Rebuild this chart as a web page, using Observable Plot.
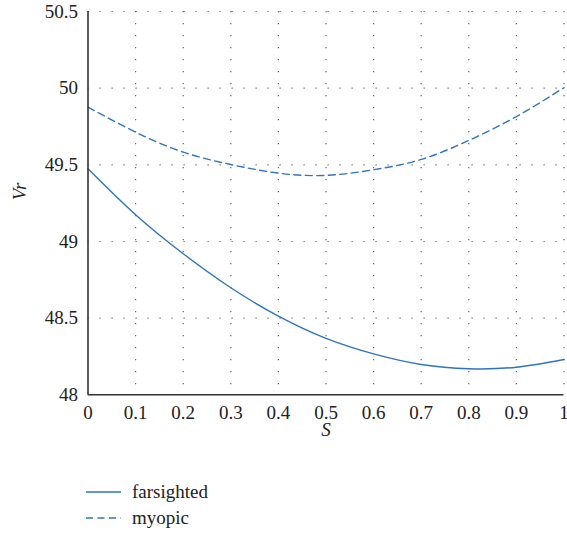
<!DOCTYPE html>
<html><head><meta charset="utf-8">
<script src="https://cdn.jsdelivr.net/npm/d3@7"></script>
<script src="https://cdn.jsdelivr.net/npm/@observablehq/plot@0.6"></script>
<style>
body{margin:0;background:#fff;font-family:Liberation Serif, serif;position:relative;width:567px;height:535px;overflow:hidden;}
#chart svg{display:block;}
.legend{position:absolute;left:86px;top:479px;font-size:19px;color:#222;font-family:Liberation Serif, serif;}
.legend .row{display:flex;align-items:center;height:26px;}
.legend svg{margin-right:11px;}
</style>
</head><body>
<div id="chart"></div>
<div class="legend" id="legend"></div>
<script>
const sValues   = [0, 0.1, 0.2, 0.3, 0.4, 0.5, 0.6, 0.7, 0.8, 0.9, 1];
const farsighted = [49.474, 49.174, 48.920, 48.698, 48.513, 48.368, 48.267, 48.198, 48.170, 48.180, 48.230];
const myopic     = [49.876, 49.713, 49.583, 49.502, 49.446, 49.431, 49.468, 49.535, 49.659, 49.815, 50.003];
const xTicks = [0, 0.1, 0.2, 0.3, 0.4, 0.5, 0.6, 0.7, 0.8, 0.9, 1];
const xTickLabels = ["0", "0.1", "0.2", "0.3", "0.4", "0.5", "0.6", "0.7", "0.8", "0.9", "1"];
const yTicks = [48, 48.5, 49, 49.5, 50, 50.5];
const yTickLabels = ["48", "48.5", "49", "49.5", "50", "50.5"];
const seriesNames = ["farsighted", "myopic"];
const lineColor = "#2f74c0";
const serif = "Liberation Serif";

const rows = [];
sValues.forEach((s, i) => {
  rows.push({s, v: farsighted[i], series: "farsighted"});
  rows.push({s, v: myopic[i], series: "myopic"});
});

const chart = Plot.plot({
  width: 567,
  height: 460,
  marginLeft: 87.5,
  marginRight: 3.5,
  marginTop: 11,
  marginBottom: 65.7,
  style: {fontFamily: serif, fontSize: "19px", color: "#222", background: "#fff", overflow: "visible"},
  x: {domain: [0, 1]},
  y: {domain: [48, 50.5]},
  marks: [
    Plot.ruleX(xTicks.filter(d => d > 0), {stroke: "#666", strokeWidth: 1.2, strokeDasharray: "1.2,10.8"}),
    Plot.ruleY(yTicks.filter(d => d > 48), {stroke: "#666", strokeWidth: 1.2, strokeDasharray: "1.2,10.8"}),
    Plot.line(rows.filter(d => d.series === "farsighted"), {x: "s", y: "v", stroke: lineColor, strokeWidth: 1.4, curve: "natural"}),
    Plot.line(rows.filter(d => d.series === "myopic"), {x: "s", y: "v", stroke: lineColor, strokeWidth: 1.4, strokeDasharray: "7,4.5", curve: "natural"}),
    Plot.ruleX([0], {stroke: "#333", strokeWidth: 1.6}),
    Plot.ruleY([48], {stroke: "#333", strokeWidth: 1.6}),
    Plot.axisX(xTicks, {tickSize: 0, tickPadding: 11, tickFormat: (d, i) => xTickLabels[i], label: null, fill: "#222", fontSize: 19, fontFamily: serif, fontVariant: "normal"}),
    Plot.axisY(yTicks, {tickSize: 0, tickPadding: 10, tickFormat: (d, i) => yTickLabels[i], label: null, fill: "#222", fontSize: 19, fontFamily: serif, fontVariant: "normal"}),
    Plot.text(["S"], {frameAnchor: "bottom", dy: 41, text: d => d, fontStyle: "italic", fontSize: 19, fontFamily: serif, fill: "#222"}),
    Plot.text(["Vr"], {frameAnchor: "left", dx: -68, dy: -3, rotate: -90, text: d => d, fontStyle: "italic", fontSize: 19, fontFamily: serif, fill: "#222"})
  ]
});
document.getElementById("chart").appendChild(chart);

const legend = document.getElementById("legend");
seriesNames.forEach((name, i) => {
  const row = document.createElement("div");
  row.className = "row";
  row.innerHTML = `<svg width="35" height="4"><line x1="0" x2="35" y1="2" y2="2" stroke="${lineColor}" stroke-width="1.4" ${i === 1 ? 'stroke-dasharray="7,4.5"' : ''}/></svg><span style="font-family:'Liberation Serif'">${name}</span>`;
  legend.appendChild(row);
});
</script>
</body></html>
